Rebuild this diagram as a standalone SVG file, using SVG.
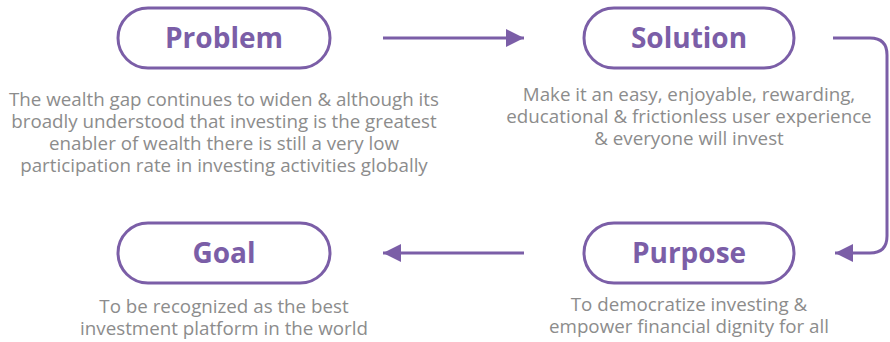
<svg xmlns="http://www.w3.org/2000/svg" width="890" height="342" viewBox="0 0 890 342">
<style>
.pill{fill:#ffffff;stroke:#7b5ea7;stroke-width:3}
.title{font-family:"Open Sans","Liberation Sans",sans-serif;font-weight:bold;font-size:28px;fill:#7b5ea7;text-anchor:middle}
.desc{font-family:"Open Sans","Liberation Sans",sans-serif;font-size:18.75px;fill:#8c8c8c;text-anchor:middle}
.conn{fill:none;stroke:#7b5ea7;stroke-width:3}
</style>
<defs>
<marker id="ah" viewBox="0 0 10 10" refX="10" refY="5" markerWidth="6" markerHeight="6.5" markerUnits="strokeWidth" orient="auto">
<path d="M0,0 L10,5 L0,10 Z" fill="#7b5ea7"/>
</marker>
</defs>
<rect width="890" height="342" fill="#ffffff"/>
<g id="connectors">
<path class="conn" d="M383,38 H524" marker-end="url(#ah)"/>
<path class="conn" d="M833,38 H870 Q887,38 887,55 V236 Q887,253 870,253 H835" marker-end="url(#ah)"/>
<path class="conn" d="M524,253 H383" marker-end="url(#ah)"/>
</g>
<g id="problem">
<rect class="pill" x="118" y="8" width="212" height="60" rx="30"/>
<text class="title" x="224" y="48">Problem</text>
<text class="desc" x="224" y="106">The wealth gap continues to widen &amp; although its</text>
<text class="desc" x="224" y="128">broadly understood that investing is the greatest</text>
<text class="desc" x="224" y="150">enabler of wealth there is still a very low</text>
<text class="desc" x="224" y="172">participation rate in investing activities globally</text>
</g>
<g id="solution">
<rect class="pill" x="584" y="8" width="210" height="60" rx="30"/>
<text class="title" x="689" y="48">Solution</text>
<text class="desc" x="689" y="101">Make it an easy, enjoyable, rewarding,</text>
<text class="desc" x="689" y="123">educational &amp; frictionless user experience</text>
<text class="desc" x="689" y="145">&amp; everyone will invest</text>
</g>
<g id="purpose">
<rect class="pill" x="584" y="223" width="210" height="60" rx="30"/>
<text class="title" x="689" y="263">Purpose</text>
<text class="desc" x="689" y="311">To democratize investing &amp;</text>
<text class="desc" x="689" y="333">empower financial dignity for all</text>
</g>
<g id="goal">
<rect class="pill" x="118" y="223" width="212" height="60" rx="30"/>
<text class="title" x="224" y="263">Goal</text>
<text class="desc" x="224" y="313">To be recognized as the best</text>
<text class="desc" x="224" y="335">investment platform in the world</text>
</g>
</svg>
